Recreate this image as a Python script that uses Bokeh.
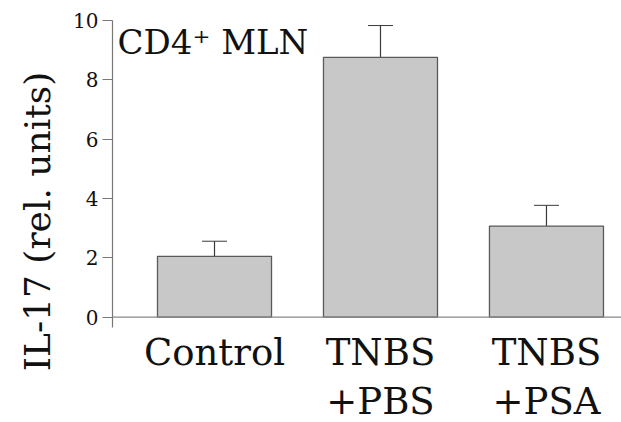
import numpy as np
from bokeh.plotting import figure
from bokeh.models import ColumnDataSource, Range1d, FixedTicker, Span, Label, LabelSet, Whisker
from bokeh.core.properties import value
from bokeh.embed import file_html
from bokeh.resources import INLINE

# ---- data ----
cat_line1 = ["Control", "TNBS", "TNBS"]
cat_line2 = ["", "+PBS", "+PSA"]
values = [2.05, 8.76, 3.07]
err_upper = [2.56, 9.83, 3.77]
err_lower = [1.49, 7.58, 2.36]
y_ticks = [0, 2, 4, 6, 8, 10]
panel_title = "CD4\u207a MLN"
y_title = "IL-17 (rel. units)"

xpos = list(np.arange(1, len(cat_line1) + 1))
src = ColumnDataSource(dict(x=xpos, top=values, upper=err_upper, lower=err_lower,
                            l1=cat_line1, l2=cat_line2))

FONT = "DejaVu Serif"
INK = "#111111"

p = figure(width=621, height=422, output_backend="svg", toolbar_location=None,
           x_range=Range1d(0.3855, 3.452), y_range=Range1d(-3.55, 10),
           title=y_title, title_location="left",
           min_border_left=112, min_border_right=0, min_border_top=20, min_border_bottom=0)
p.background_fill_color = "white"
p.border_fill_color = "white"
p.outline_line_color = None
p.grid.visible = False
p.xaxis.visible = False

# y title (rendered as a left-side title, shifted up to centre on the axis)
p.title.text_font = FONT
p.title.text_font_size = "36px"
p.title.text_font_style = "normal"
p.title.text_color = INK
p.title.align = "center"
p.title.offset = 58
p.title.standoff = 25

p.vbar(x="x", top="top", bottom=0, width=0.687, source=src,
       fill_color="#c8c8c8", line_color="#5a5a5a", line_width=1.3)

w = Whisker(base="x", upper="upper", lower="lower", source=src, dimension="height",
            line_color="#3a3a3a", line_width=1.2)
w.upper_head.size = 25
w.lower_head.size = 25
w.upper_head.line_color = "#3a3a3a"
w.lower_head.line_color = "#3a3a3a"
p.add_layout(w)

p.add_layout(Span(location=0, dimension="width", line_color="#888888", line_width=1.2))

# y axis
ya = p.yaxis[0]
ya.ticker = FixedTicker(ticks=y_ticks)
ya.bounds = (-0.34, 10)
ya.minor_tick_line_color = None
ya.axis_line_color = "#777777"
ya.axis_line_width = 1.2
ya.major_tick_line_color = "#777777"
ya.major_tick_out = 10
ya.major_tick_in = 0
ya.major_label_standoff = 4
ya.major_label_text_font = FONT
ya.major_label_text_font_size = "20px"
ya.major_label_text_color = INK

# category labels below the bars
for col, yv in (("l1", -1.62), ("l2", -3.28)):
    p.add_layout(LabelSet(x="x", y=yv, text=col, source=src,
                          text_font=value(FONT), text_font_size=value("37px"),
                          text_color=INK, text_align="center",
                          text_baseline="alphabetic"))

p.add_layout(Label(x=0.4156, y=9.26, text=panel_title, text_font=FONT,
                   text_font_size="34px", text_color=INK,
                   text_baseline="alphabetic", text_align="left"))

open("out.html", "w").write(file_html(p, INLINE))
